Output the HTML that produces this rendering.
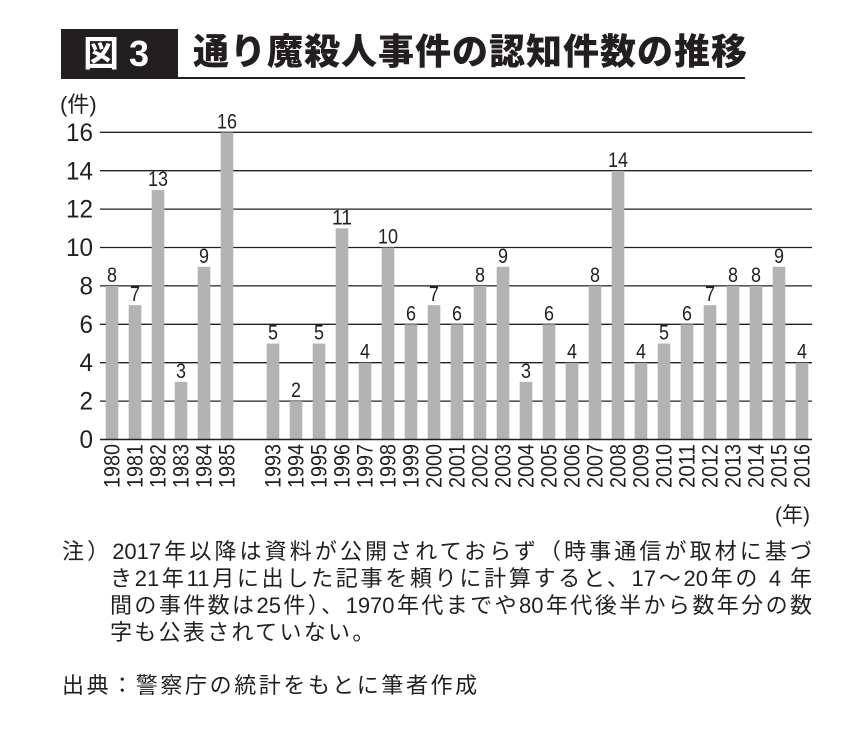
<!DOCTYPE html>
<html><head><meta charset="utf-8"><style>
body{margin:0;width:865px;height:735px;background:#fff;overflow:hidden;font-family:"Liberation Sans","Noto Sans CJK JP",sans-serif;color:#231f20;position:relative}
.a{position:absolute;white-space:nowrap}
.nl{position:absolute;font-size:22px;text-align:justify;text-align-last:justify;white-space:nowrap;line-height:27px}
</style></head><body>
<div class="a" style="left:61px;top:29px;width:117px;height:50px;background:#231f20"></div>
<div class="a" style="left:83px;top:30px;font-size:36px;font-weight:bold;color:#fff;line-height:48px">図 3</div>
<div class="a" style="left:193px;top:28px;font-size:36px;font-weight:900;line-height:48px;letter-spacing:1px">通り魔殺人事件の認知件数の推移</div>
<div class="a" style="left:178px;top:77px;width:567px;height:2px;background:#231f20"></div>
<svg class="a" style="left:0;top:0" width="865" height="735" font-family="Liberation Sans, Noto Sans CJK JP, sans-serif">
<text x="60" y="112" font-size="22" fill="#231f20">(件)</text>
<g stroke="#231f20" stroke-width="1.3">
<line x1="100" x2="812" y1="132.3" y2="132.3"/><line x1="100" x2="812" y1="170.7" y2="170.7"/><line x1="100" x2="812" y1="209.1" y2="209.1"/><line x1="100" x2="812" y1="247.5" y2="247.5"/><line x1="100" x2="812" y1="285.9" y2="285.9"/><line x1="100" x2="812" y1="324.3" y2="324.3"/><line x1="100" x2="812" y1="362.7" y2="362.7"/><line x1="100" x2="812" y1="401.1" y2="401.1"/>
</g>
<g id="yl" font-size="25" text-anchor="end" fill="#231f20"></g>
<g id="bars"></g>
<line x1="100" x2="812" y1="439.5" y2="439.5" stroke="#231f20" stroke-width="1.5"/>
<text x="775" y="522" font-size="21" fill="#231f20">(年)</text>
</svg>
<div class="nl" style="left:62px;top:538px;width:750px">注）2017年以降は資料が公開されておらず（時事通信が取材に基づ</div>
<div class="nl" style="left:110px;top:565px;width:702px">き21年11月に出した記事を頼りに計算すると、17～20年の 4 年</div>
<div class="nl" style="left:110px;top:592px;width:702px">間の事件数は25件）、1970年代までや80年代後半から数年分の数</div>
<div class="a" style="left:110px;top:619px;font-size:22px;line-height:27px;letter-spacing:2.3px">字も公表されていない。</div>
<div class="a" style="left:62px;top:672px;font-size:22px;line-height:27px;letter-spacing:2.6px">出典：警察庁の統計をもとに筆者作成</div>
<script>
var yl='';for(var v=0;v<=16;v+=2){var y=439.5-v*19.19+8.5;yl+='<text x="93" y="'+y+'"'+(v>=10?' textLength="27" lengthAdjust="spacingAndGlyphs"':' textLength="13.5" lengthAdjust="spacingAndGlyphs"')+'>'+v+'</text>';}
document.getElementById('yl').innerHTML=yl;
var d=[[1980,8],[1981,7],[1982,13],[1983,3],[1984,9],[1985,16],null,[1993,5],[1994,2],[1995,5],[1996,11],[1997,4],[1998,10],[1999,6],[2000,7],[2001,6],[2002,8],[2003,9],[2004,3],[2005,6],[2006,4],[2007,8],[2008,14],[2009,4],[2010,5],[2011,6],[2012,7],[2013,8],[2014,8],[2015,9],[2016,4]];
var g=document.getElementById('bars'),s='';
d.forEach(function(e,i){if(!e)return;var x=105.7+i*23,h=e[1]*19.19,y=439.5-h,cx=x+6.3;
s+='<rect x="'+x+'" y="'+y+'" width="12.6" height="'+h+'" fill="#b3b3b3"/>';
var tl=e[1]>=10?20:10;
s+='<text x="'+cx+'" y="'+(y-4)+'" font-size="21" text-anchor="middle" fill="#231f20" textLength="'+tl+'" lengthAdjust="spacingAndGlyphs">'+e[1]+'</text>';
s+='<text transform="translate('+(cx+7.5)+',444) rotate(-90)" font-size="22" text-anchor="end" fill="#231f20" textLength="44" lengthAdjust="spacingAndGlyphs">'+e[0]+'</text>';});
g.innerHTML=s;
</script>
</body></html>
